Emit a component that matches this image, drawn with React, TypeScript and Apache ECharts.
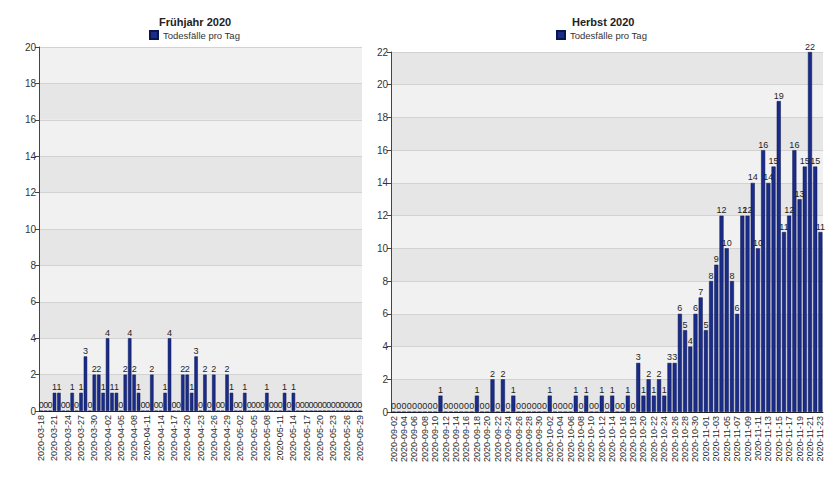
import React, { useEffect, useRef } from 'react';
import * as echarts from 'echarts';

const seriesName = 'Todesfälle pro Tag';
const springTitle = 'Frühjahr 2020';
const autumnTitle = 'Herbst 2020';

const springDates = [
  '2020-03-18', '2020-03-19', '2020-03-20', '2020-03-21', '2020-03-22', '2020-03-23', '2020-03-24', '2020-03-25',
  '2020-03-26', '2020-03-27', '2020-03-28', '2020-03-29', '2020-03-30', '2020-03-31', '2020-04-01', '2020-04-02',
  '2020-04-03', '2020-04-04', '2020-04-05', '2020-04-06', '2020-04-07', '2020-04-08', '2020-04-09', '2020-04-10',
  '2020-04-11', '2020-04-12', '2020-04-13', '2020-04-14', '2020-04-15', '2020-04-16', '2020-04-17', '2020-04-18',
  '2020-04-19', '2020-04-20', '2020-04-21', '2020-04-22', '2020-04-23', '2020-04-24', '2020-04-25', '2020-04-26',
  '2020-04-27', '2020-04-28', '2020-04-29', '2020-04-30', '2020-05-01', '2020-05-02', '2020-05-03', '2020-05-04',
  '2020-05-05', '2020-05-06', '2020-05-07', '2020-05-08', '2020-05-09', '2020-05-10', '2020-05-11', '2020-05-12',
  '2020-05-13', '2020-05-14', '2020-05-15', '2020-05-16', '2020-05-17', '2020-05-18', '2020-05-19', '2020-05-20',
  '2020-05-21', '2020-05-22', '2020-05-23', '2020-05-24', '2020-05-25', '2020-05-26', '2020-05-27', '2020-05-28',
  '2020-05-29',
];

const springDeaths = [
  0, 0, 0, 1, 1, 0, 0, 1, 0, 1,
  3, 0, 2, 2, 1, 4, 1, 1, 0, 2,
  4, 2, 1, 0, 0, 2, 0, 0, 1, 4,
  0, 0, 2, 2, 1, 3, 0, 2, 0, 2,
  0, 0, 2, 1, 0, 0, 1, 0, 0, 0,
  0, 1, 0, 0, 0, 1, 0, 1, 0, 0,
  0, 0, 0, 0, 0, 0, 0, 0, 0, 0,
  0, 0, 0,
];

const autumnDates = [
  '2020-09-02', '2020-09-03', '2020-09-04', '2020-09-05', '2020-09-06', '2020-09-07', '2020-09-08', '2020-09-09',
  '2020-09-10', '2020-09-11', '2020-09-12', '2020-09-13', '2020-09-14', '2020-09-15', '2020-09-16', '2020-09-17',
  '2020-09-18', '2020-09-19', '2020-09-20', '2020-09-21', '2020-09-22', '2020-09-23', '2020-09-24', '2020-09-25',
  '2020-09-26', '2020-09-27', '2020-09-28', '2020-09-29', '2020-09-30', '2020-10-01', '2020-10-02', '2020-10-03',
  '2020-10-04', '2020-10-05', '2020-10-06', '2020-10-07', '2020-10-08', '2020-10-09', '2020-10-10', '2020-10-11',
  '2020-10-12', '2020-10-13', '2020-10-14', '2020-10-15', '2020-10-16', '2020-10-17', '2020-10-18', '2020-10-19',
  '2020-10-20', '2020-10-21', '2020-10-22', '2020-10-23', '2020-10-24', '2020-10-25', '2020-10-26', '2020-10-27',
  '2020-10-28', '2020-10-29', '2020-10-30', '2020-10-31', '2020-11-01', '2020-11-02', '2020-11-03', '2020-11-04',
  '2020-11-05', '2020-11-06', '2020-11-07', '2020-11-08', '2020-11-09', '2020-11-10', '2020-11-11', '2020-11-12',
  '2020-11-13', '2020-11-14', '2020-11-15', '2020-11-16', '2020-11-17', '2020-11-18', '2020-11-19', '2020-11-20',
  '2020-11-21', '2020-11-22', '2020-11-23',
];

const autumnDeaths = [
  0, 0, 0, 0, 0, 0, 0, 0, 0, 1,
  0, 0, 0, 0, 0, 0, 1, 0, 0, 2,
  0, 2, 0, 1, 0, 0, 0, 0, 0, 0,
  1, 0, 0, 0, 0, 1, 0, 1, 0, 0,
  1, 0, 1, 0, 0, 1, 0, 3, 1, 2,
  1, 2, 1, 3, 3, 6, 5, 4, 6, 7,
  5, 8, 9, 12, 10, 8, 6, 12, 12, 14,
  10, 16, 14, 15, 19, 11, 12, 16, 13, 15,
  22, 15, 11,
];

const springMax = 20;
const autumnMax = 22;
const yStep = 2;

export default function App() {
  const ref = useRef<HTMLDivElement>(null);

  useEffect(() => {
    if (!ref.current) return;
    const chart = echarts.init(ref.current, null, { renderer: 'svg' });
    const font = "'Liberation Sans', Arial, Helvetica, sans-serif";
    const barColor = '#1a2c88';
    const borderColor = '#0a1550';

    const makeX = (gridIndex: number, data: string[], interval: number) => ({
      type: 'category',
      gridIndex,
      data,
      axisLine: { lineStyle: { color: '#222', width: 1 } },
      axisTick: { alignWithLabel: true, interval: 0, length: 4, lineStyle: { color: '#222' } },
      axisLabel: { rotate: 90, interval, fontSize: 9, color: '#2a2a2a', fontFamily: font, margin: 4 },
      splitLine: { show: false },
    });

    const makeY = (gridIndex: number, max: number) => ({
      type: 'value',
      gridIndex,
      min: 0,
      max,
      interval: yStep,
      axisLine: { show: true, lineStyle: { color: '#444' } },
      axisTick: { show: true, length: 4, lineStyle: { color: '#444' } },
      axisLabel: { fontSize: 10, color: '#333', fontFamily: font, margin: 3 },
      splitLine: { show: true, lineStyle: { color: '#d2d2d2' } },
      splitArea: { show: true, areaStyle: { color: ['#e6e6e6', '#f1f1f1'] } },
    });

    const makeSeries = (idx: number, data: number[]) => ({
      name: seriesName,
      type: 'bar',
      xAxisIndex: idx,
      yAxisIndex: idx,
      data,
      barCategoryGap: '22%',
      itemStyle: { color: barColor, borderColor, borderWidth: 0.5 },
      label: {
        show: true,
        position: 'top',
        distance: 1,
        fontSize: 9,
        color: '#1e1e1e',
        fontFamily: font,
      },
    });

    const legendBase = {
      data: [{ name: seriesName, icon: 'rect' }],
      top: 30,
      padding: 0,
      itemWidth: 8,
      itemHeight: 8,
      selectedMode: false,
      textStyle: { fontSize: 9.5, color: '#333', fontFamily: font },
    };

    chart.setOption({
      animation: false,
      backgroundColor: '#ffffff',
      textStyle: { fontFamily: font },
      title: [
        {
          text: springTitle,
          left: 159,
          top: 16,
          padding: 0,
          textStyle: { fontSize: 11, fontWeight: 'bold', color: '#222', fontFamily: font },
        },
        {
          text: autumnTitle,
          left: 572,
          top: 16,
          padding: 0,
          textStyle: { fontSize: 11, fontWeight: 'bold', color: '#222', fontFamily: font },
        },
      ],
      legend: [
        { ...legendBase, left: 149 },
        { ...legendBase, left: 556 },
      ],
      grid: [
        { left: 39, top: 47, width: 323, height: 364, containLabel: false },
        { left: 391, top: 52, width: 432, height: 360, containLabel: false },
      ],
      xAxis: [makeX(0, springDates, 2), makeX(1, autumnDates, 1)],
      yAxis: [makeY(0, springMax), makeY(1, autumnMax)],
      series: [makeSeries(0, springDeaths), makeSeries(1, autumnDeaths)],
    });

    return () => {
      chart.dispose();
    };
  }, []);

  return (
    <div
      ref={ref}
      style={{ position: 'fixed', left: 0, top: 0, width: 827, height: 499, background: '#fff' }}
    />
  );
}
